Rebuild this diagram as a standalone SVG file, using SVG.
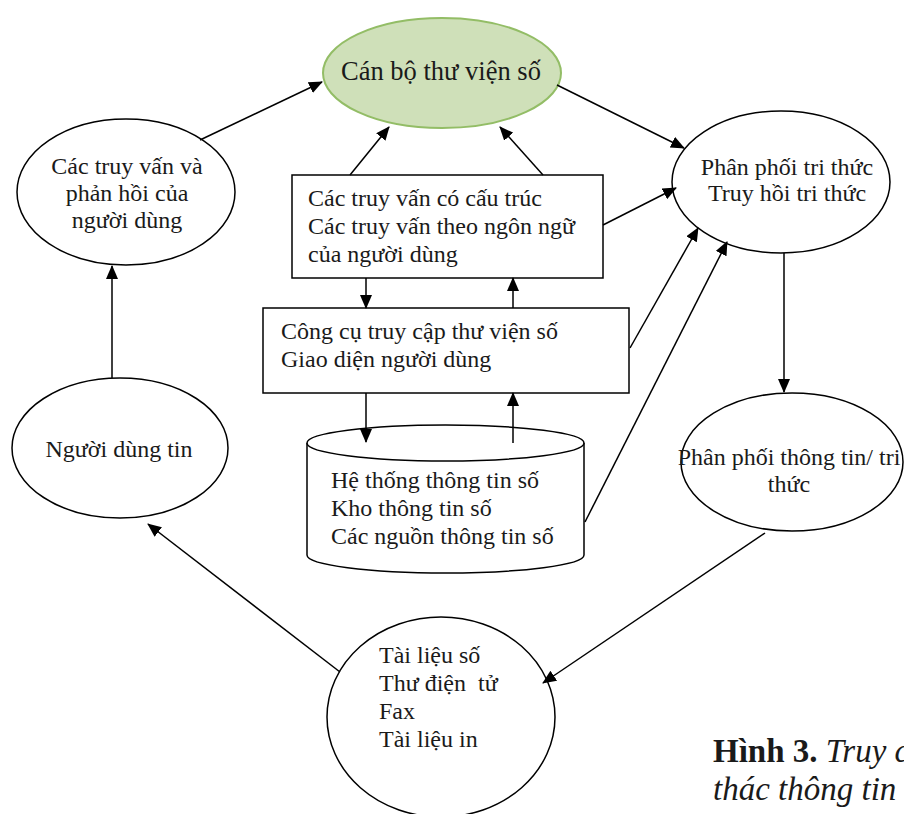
<svg xmlns="http://www.w3.org/2000/svg" width="904" height="814" viewBox="0 0 904 814">
<defs>
<marker id="ah" markerUnits="userSpaceOnUse" markerWidth="14" markerHeight="12" refX="13" refY="6" orient="auto">
<path d="M0,0 L14,6 L0,12 Z" fill="#000"/>
</marker>
<style>
.t{font-family:"Liberation Serif","Times New Roman",serif;font-size:24px;fill:#1a1a1a}
.s{fill:#fff;stroke:#000;stroke-width:1.5}
.c line{stroke:#000;stroke-width:1.5;marker-end:url(#ah)}
.cap{font-family:"Liberation Serif","Times New Roman",serif;font-size:33px;fill:#1a1a1a}
</style>
</defs>
<rect width="904" height="814" fill="#fff"/>
<g id="can-bo">
<ellipse cx="442" cy="73" rx="119" ry="55" fill="#cfe0b9" stroke="#93bd66" stroke-width="2"/>
<text class="t" x="441" y="80" text-anchor="middle" style="font-size:26.5px">Cán bộ thư viện số</text>
</g>
<g id="truy-van-phan-hoi">
<ellipse class="s" cx="126" cy="192" rx="109" ry="73"/>
<text class="t" text-anchor="middle"><tspan x="127" y="174">Các truy vấn và</tspan><tspan x="127" y="201">phản hồi của</tspan><tspan x="127" y="228">người dùng</tspan></text>
</g>
<g id="phan-phoi-tri-thuc">
<ellipse class="s" cx="781" cy="182" rx="109" ry="71"/>
<text class="t" text-anchor="middle"><tspan x="787" y="175">Phân phối tri thức</tspan><tspan x="787" y="201">Truy hồi tri thức</tspan></text>
</g>
<g id="truy-van-box">
<rect class="s" x="292" y="175" width="311" height="103"/>
<text class="t"><tspan x="308" y="206">Các truy vấn có cấu trúc</tspan><tspan x="308" y="234">Các truy vấn theo ngôn ngữ</tspan><tspan x="308" y="262">của người dùng</tspan></text>
</g>
<g id="cong-cu-box">
<rect class="s" x="263" y="308" width="366" height="85"/>
<text class="t"><tspan x="281" y="339">Công cụ truy cập thư viện số</tspan><tspan x="281" y="367">Giao diện người dùng</tspan></text>
</g>
<g id="he-thong">
<path class="s" d="M307,443 L307,555 A138.5,18 0 0 0 584,555 L584,443"/>
<ellipse class="s" cx="445.5" cy="443" rx="138.5" ry="18"/>
<text class="t"><tspan x="331" y="488">Hệ thống thông tin số</tspan><tspan x="331" y="516">Kho thông tin số</tspan><tspan x="331" y="544">Các nguồn thông tin số</tspan></text>
</g>
<g id="nguoi-dung-tin">
<ellipse class="s" cx="120" cy="448" rx="108" ry="70"/>
<text class="t" x="119" y="457" text-anchor="middle">Người dùng tin</text>
</g>
<g id="phan-phoi-thong-tin">
<ellipse class="s" cx="792" cy="462" rx="111" ry="69"/>
<text class="t" text-anchor="middle"><tspan x="789" y="465">Phân phối thông tin/ tri</tspan><tspan x="789" y="492">thức</tspan></text>
</g>
<g id="tai-lieu">
<ellipse class="s" cx="441" cy="717" rx="114" ry="100"/>
<text class="t" xml:space="preserve"><tspan x="379" y="663">Tài liệu số</tspan><tspan x="379" y="691">Thư điện  tử</tspan><tspan x="379" y="719">Fax</tspan><tspan x="379" y="747">Tài liệu in</tspan></text>
</g>
<g id="connectors" class="c">
<line x1="200" y1="140" x2="322" y2="82"/>
<line x1="350" y1="175" x2="389" y2="127"/>
<line x1="543" y1="175" x2="500" y2="127"/>
<line x1="557" y1="85" x2="684" y2="148"/>
<line x1="603" y1="225" x2="676" y2="188"/>
<line x1="630" y1="348" x2="698" y2="228"/>
<line x1="585" y1="522" x2="727" y2="242"/>
<line x1="366" y1="278" x2="366" y2="308"/>
<line x1="513" y1="308" x2="513" y2="278"/>
<line x1="366" y1="393" x2="366" y2="442"/>
<line x1="513" y1="443" x2="513" y2="393"/>
<line x1="784" y1="253" x2="784" y2="392"/>
<line x1="112" y1="378" x2="112" y2="266"/>
<line x1="340" y1="672" x2="148" y2="524"/>
<line x1="765" y1="533" x2="543" y2="683"/>
</g>
<g id="caption">
<text class="cap" x="713" y="762"><tspan font-weight="bold">Hình 3.</tspan><tspan font-style="italic"> Truy c</tspan></text>
<text class="cap" x="713" y="800" font-style="italic">thác thông tin</text>
</g>
</svg>
